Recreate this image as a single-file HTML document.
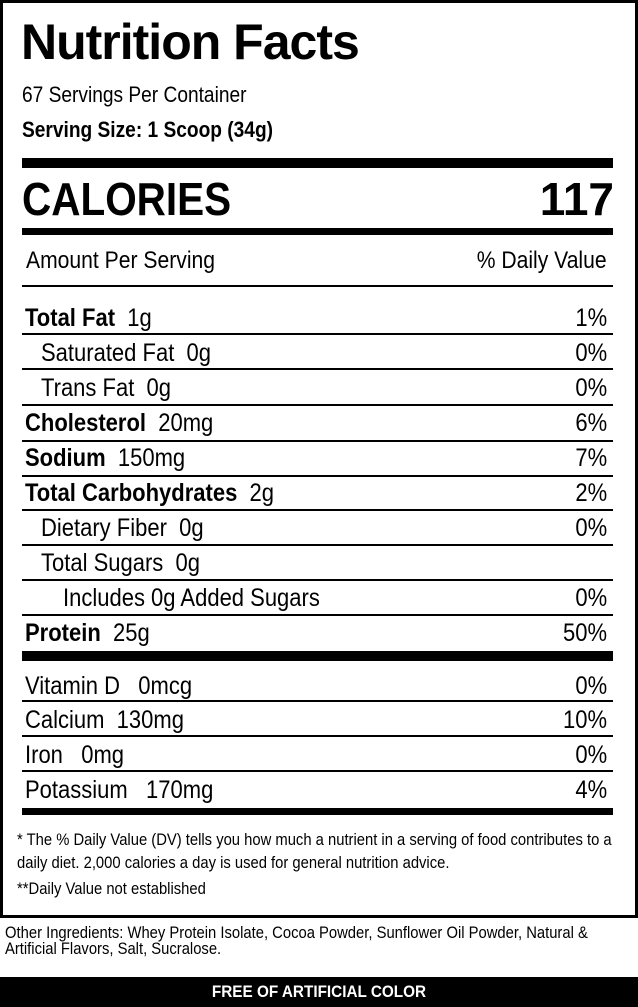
<!DOCTYPE html>
<html><head><style>
*{margin:0;padding:0;box-sizing:border-box}
body{width:638px;height:1007px;background:#fff;position:relative;overflow:hidden;font-family:"Liberation Sans",sans-serif;color:#000}
.a{position:absolute;white-space:nowrap}
.box{position:absolute;left:0;top:0;width:638px;height:918px;border:3px solid #000}
.ln{position:absolute;left:22px;width:591px;height:2px;background:#000}
.tb{position:absolute;left:22px;width:591px;background:#000}
.r{font-size:25px;line-height:26px;transform:scaleX(0.88);transform-origin:left center}
.rt{right:31px;text-align:right;transform-origin:right center}
.b{font-weight:bold}
</style></head><body>
<div class="box"></div>
<div class="a b" style="left:21px;top:12px;font-size:50px;line-height:60px;letter-spacing:-1px">Nutrition Facts</div>
<div class="a" style="left:22px;top:82px;font-size:22px;line-height:26px;transform:scaleX(0.87);transform-origin:left">67 Servings Per Container</div>
<div class="a b" style="left:22px;top:117px;font-size:22px;line-height:26px;transform:scaleX(0.87);transform-origin:left">Serving Size: 1 Scoop (34g)</div>
<div class="tb" style="top:158px;height:10px"></div>
<div class="a b" style="left:22px;top:173px;font-size:46px;line-height:52px;transform:scaleX(0.88);transform-origin:left">CALORIES</div>
<div class="a b" style="right:24px;top:173px;font-size:46px;line-height:52px">117</div>
<div class="tb" style="top:228px;height:7px"></div>
<div class="a r" style="left:26px;top:248px;font-size:24px">Amount Per Serving</div>
<div class="a r rt" style="top:248px;font-size:24px">% Daily Value</div>
<div class="ln" style="top:285px"></div>

<div class="a r" style="left:25px;top:305px"><b>Total Fat</b>&nbsp; 1g</div><div class="a r rt" style="top:305px">1%</div>
<div class="ln" style="top:333px"></div>
<div class="a r" style="left:41px;top:340px">Saturated Fat&nbsp; 0g</div><div class="a r rt" style="top:340px">0%</div>
<div class="ln" style="top:368px"></div>
<div class="a r" style="left:41px;top:375px">Trans Fat&nbsp; 0g</div><div class="a r rt" style="top:375px">0%</div>
<div class="ln" style="top:404px"></div>
<div class="a r" style="left:25px;top:410px"><b>Cholesterol</b>&nbsp; 20mg</div><div class="a r rt" style="top:410px">6%</div>
<div class="ln" style="top:440px"></div>
<div class="a r" style="left:25px;top:445px"><b>Sodium</b>&nbsp; 150mg</div><div class="a r rt" style="top:445px">7%</div>
<div class="ln" style="top:475px"></div>
<div class="a r" style="left:25px;top:480px"><b>Total Carbohydrates</b>&nbsp; 2g</div><div class="a r rt" style="top:480px">2%</div>
<div class="ln" style="top:509px"></div>
<div class="a r" style="left:41px;top:515px">Dietary Fiber&nbsp; 0g</div><div class="a r rt" style="top:515px">0%</div>
<div class="ln" style="top:544px"></div>
<div class="a r" style="left:41px;top:550px">Total Sugars&nbsp; 0g</div>
<div class="ln" style="top:579px"></div>
<div class="a r" style="left:63px;top:585px">Includes 0g Added Sugars</div><div class="a r rt" style="top:585px">0%</div>
<div class="ln" style="top:614px"></div>
<div class="a r" style="left:25px;top:620px"><b>Protein</b>&nbsp; 25g</div><div class="a r rt" style="top:620px">50%</div>
<div class="tb" style="top:651px;height:10px"></div>
<div class="a r" style="left:25px;top:673px">Vitamin D&nbsp;&nbsp; 0mcg</div><div class="a r rt" style="top:673px">0%</div>
<div class="ln" style="top:700px"></div>
<div class="a r" style="left:25px;top:707px">Calcium&nbsp; 130mg</div><div class="a r rt" style="top:707px">10%</div>
<div class="ln" style="top:735px"></div>
<div class="a r" style="left:25px;top:742px">Iron&nbsp;&nbsp; 0mg</div><div class="a r rt" style="top:742px">0%</div>
<div class="ln" style="top:770px"></div>
<div class="a r" style="left:25px;top:777px">Potassium&nbsp;&nbsp; 170mg</div><div class="a r rt" style="top:777px">4%</div>
<div class="tb" style="top:808px;height:7px"></div>
<div class="a" style="left:17px;top:828px;font-size:17px;line-height:23px;white-space:normal;width:685px;transform:scaleX(0.87);transform-origin:left top">* The % Daily Value (DV) tells you how much a nutrient in a serving of food contributes to a daily diet. 2,000 calories a day is used for general nutrition advice.</div>
<div class="a" style="left:17px;top:878px;font-size:17px;line-height:22px;transform:scaleX(0.87);transform-origin:left">**Daily Value not established</div>
<div class="a" style="left:5px;top:925px;font-size:17px;line-height:16px;transform:scaleX(0.87);transform-origin:left top">Other Ingredients: Whey Protein Isolate, Cocoa Powder, Sunflower Oil Powder, Natural &amp;<br>Artificial Flavors, Salt, Sucralose.</div>
<div class="a" style="left:0;top:977px;width:638px;height:30px;background:#000"></div>
<div class="a" style="left:0;top:977px;width:638px;color:#fff;text-align:center;font-weight:bold;font-size:17px;line-height:30px;transform:scaleX(0.9);transform-origin:center">FREE OF ARTIFICIAL COLOR</div>
</body></html>
